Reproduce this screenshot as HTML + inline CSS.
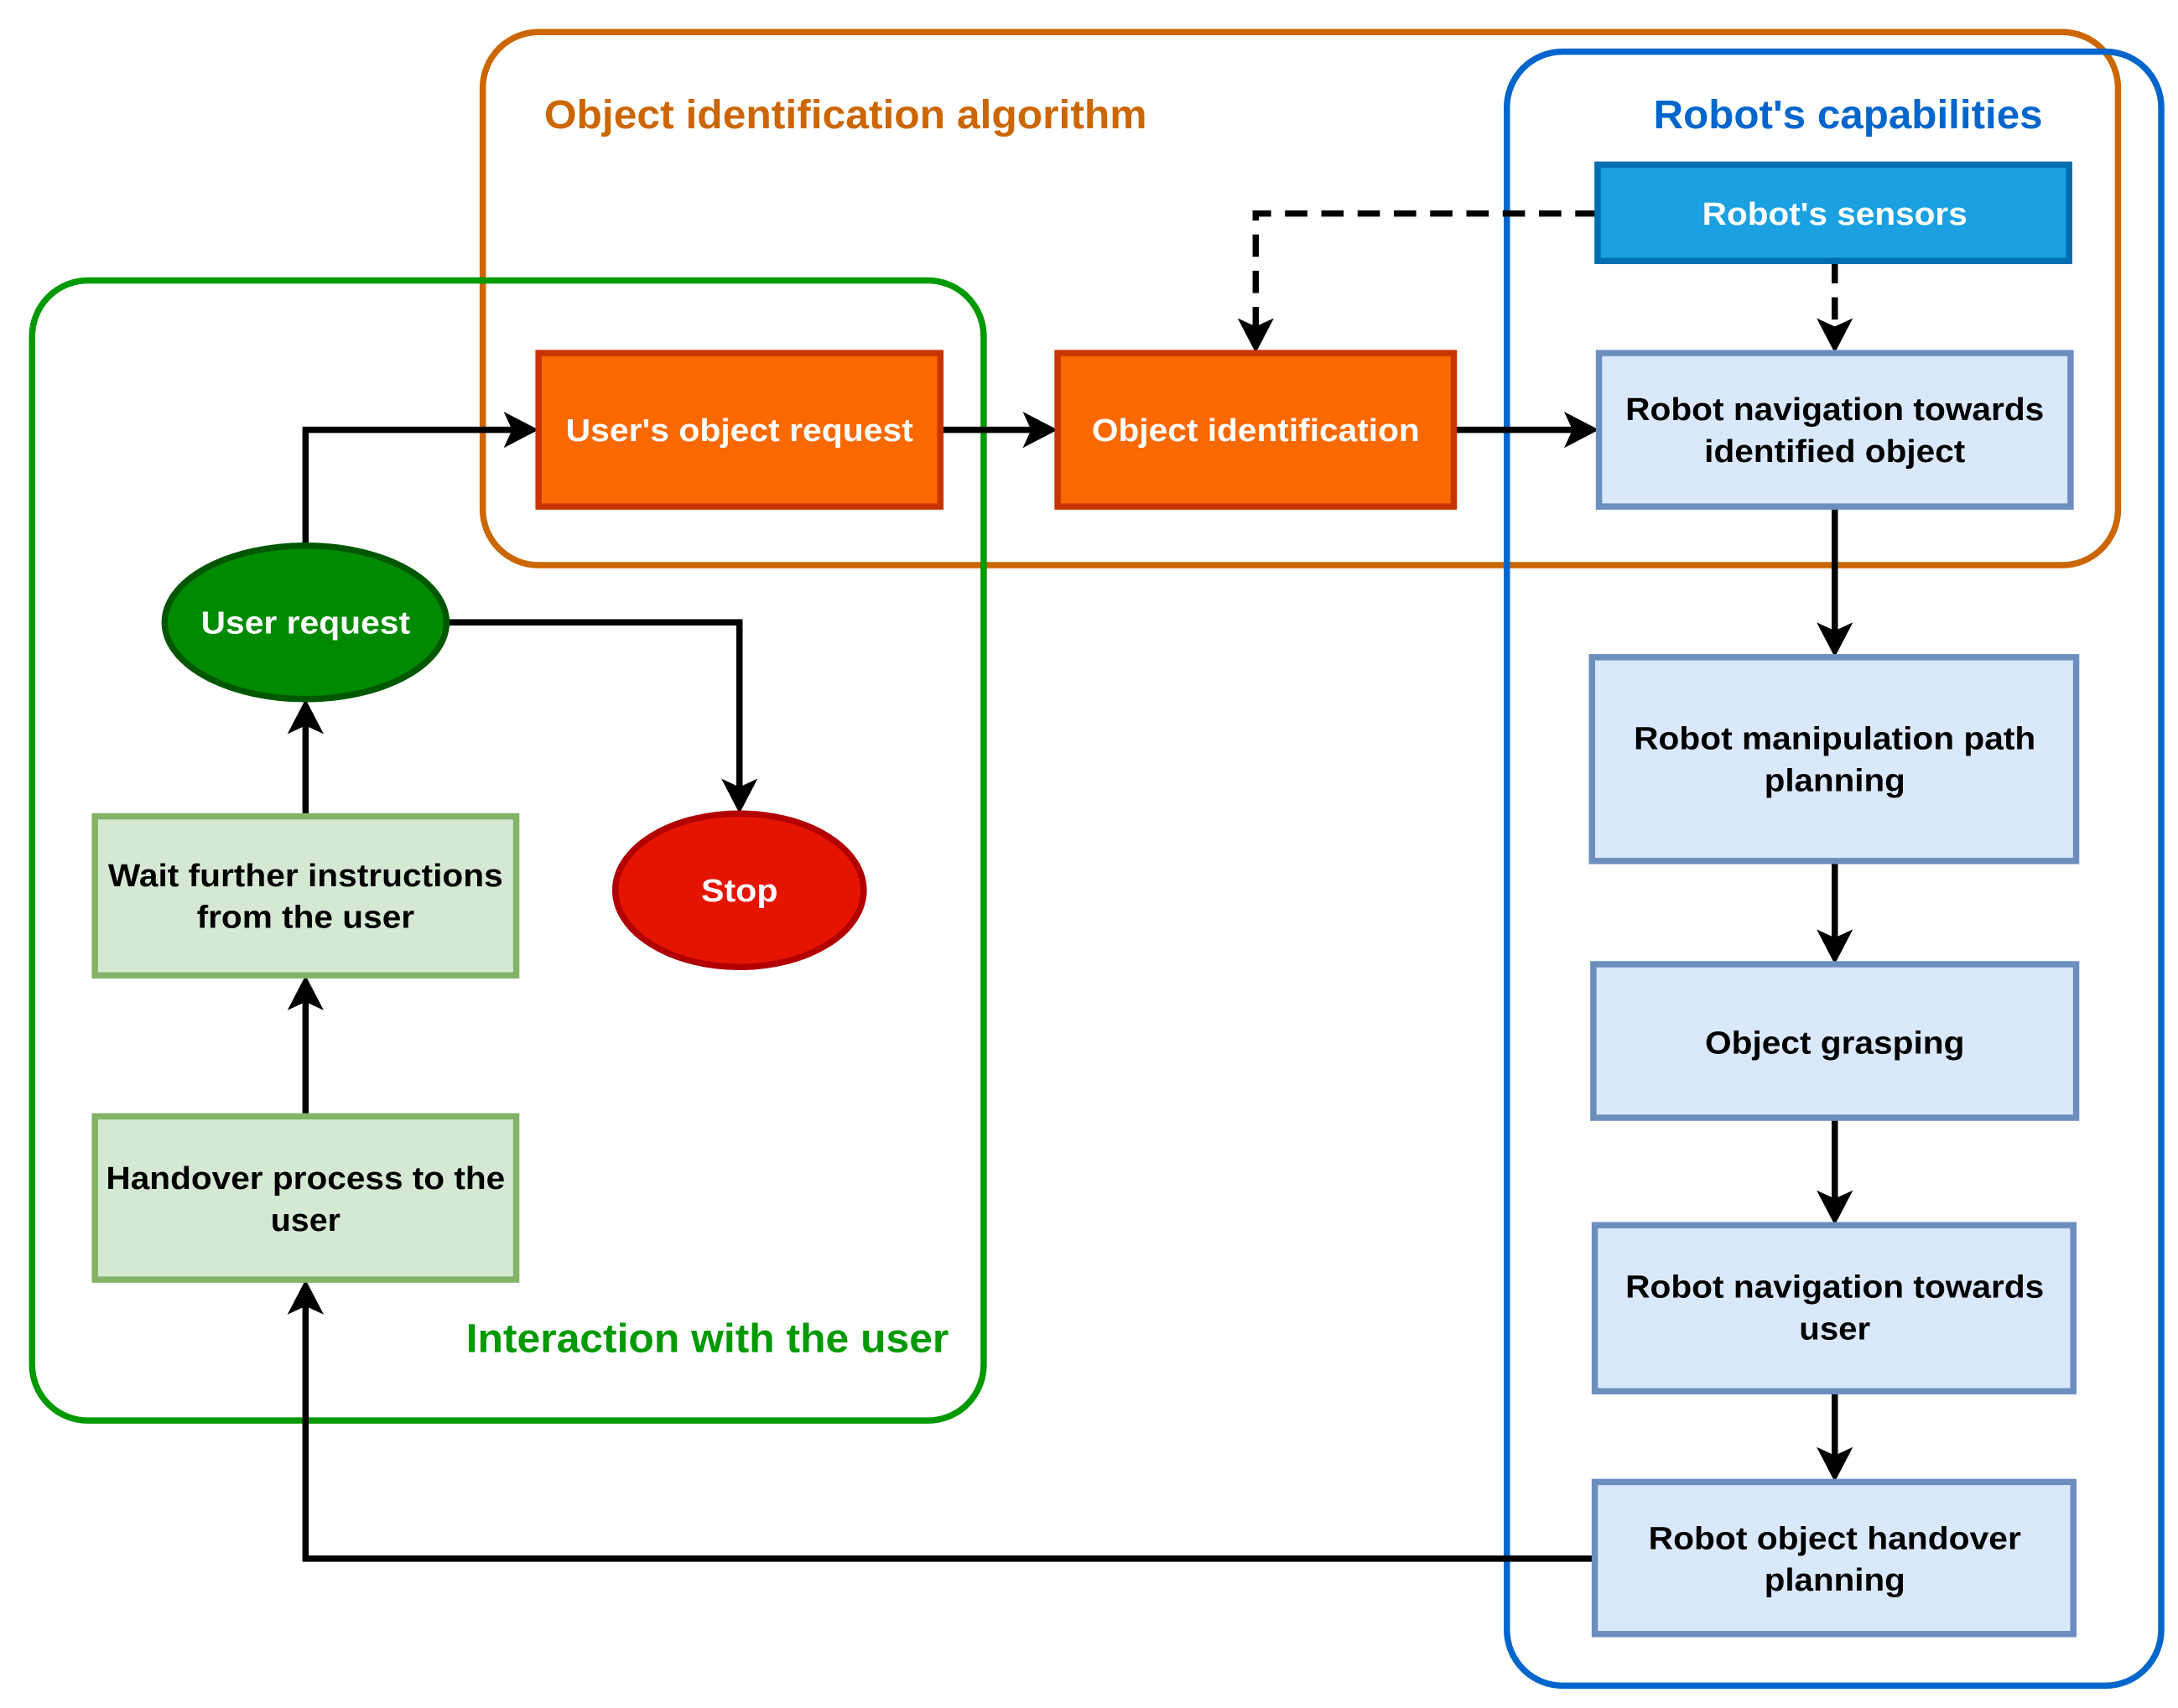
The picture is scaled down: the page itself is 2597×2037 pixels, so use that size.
<!DOCTYPE html>
<html><head><meta charset="utf-8"><style>html,body{margin:0;padding:0;background:#fff}svg{display:block}</style></head>
<body>
<svg width="2597" height="2037" viewBox="0 0 1561 1224" preserveAspectRatio="none" xmlns="http://www.w3.org/2000/svg" font-family="Liberation Sans, Arial, sans-serif" font-weight="bold">
<!-- containers -->
<rect x="346" y="23" width="1172" height="382" rx="40" fill="none" stroke="#CC6600" stroke-width="4.5"/>
<rect x="1080" y="37" width="469" height="1171" rx="40" fill="none" stroke="#0066CC" stroke-width="4.5"/>
<rect x="23" y="201" width="682" height="817" rx="40" fill="none" stroke="#009900" stroke-width="4.5"/>
<text x="390" y="92" font-size="29" fill="#CC6600" textLength="432" lengthAdjust="spacingAndGlyphs">Object identification algorithm</text>
<text x="1185" y="92" font-size="29" fill="#0066CC" textLength="279" lengthAdjust="spacingAndGlyphs">Robot's capabilities</text>
<text x="334" y="969" font-size="29" fill="#009900" textLength="346" lengthAdjust="spacingAndGlyphs">Interaction with the user</text>

<!-- connectors -->
<g stroke="#000" stroke-width="4.5" fill="none">
<polyline points="219,391 219,308 376,308"/>
<line x1="674" y1="308" x2="748" y2="308"/>
<line x1="1042" y1="308" x2="1136" y2="308"/>
<polyline points="1145,153 900,153 900,243" stroke-dasharray="16,10"/>
<line x1="1315" y1="187" x2="1315" y2="243" stroke-dasharray="16,10"/>
<line x1="1315" y1="363" x2="1315" y2="461"/>
<line x1="1315" y1="617" x2="1315" y2="681"/>
<line x1="1315" y1="801" x2="1315" y2="868"/>
<line x1="1315" y1="997" x2="1315" y2="1052"/>
<polyline points="1143,1117 219,1117 219,927"/>
<line x1="219" y1="800" x2="219" y2="709"/>
<line x1="219" y1="585" x2="219" y2="511"/>
<polyline points="320,446 530,446 530,573"/>
</g>
<g fill="#000">
<path d="M386,308 l-25,-13 l6,13 l-6,13z"/>
<path d="M758,308 l-25,-13 l6,13 l-6,13z"/>
<path d="M1146,308 l-25,-13 l6,13 l-6,13z"/>
<path d="M900,253 l-13,-25 l13,6 l13,-6z"/>
<path d="M1315,253 l-13,-25 l13,6 l13,-6z"/>
<path d="M1315,471 l-13,-25 l13,6 l13,-6z"/>
<path d="M1315,691 l-13,-25 l13,6 l13,-6z"/>
<path d="M1315,878 l-13,-25 l13,6 l13,-6z"/>
<path d="M1315,1062 l-13,-25 l13,6 l13,-6z"/>
<path d="M530,583 l-13,-25 l13,6 l13,-6z"/>
<path d="M219,917 l-13,25 l13,-6 l13,6z"/>
<path d="M219,699 l-13,25 l13,-6 l13,6z"/>
<path d="M219,501 l-13,25 l13,-6 l13,6z"/>
</g>

<!-- nodes -->
<rect x="1145" y="118" width="338" height="69" fill="#1BA1E2" stroke="#006EAF" stroke-width="4.5"/>
<text x="1315" y="161" font-size="23" fill="#fff" text-anchor="middle" textLength="190" lengthAdjust="spacingAndGlyphs">Robot's sensors</text>

<rect x="386" y="253" width="288" height="110" fill="#FA6800" stroke="#C73500" stroke-width="4.5"/>
<text x="530" y="316" font-size="23" fill="#fff" text-anchor="middle" textLength="249" lengthAdjust="spacingAndGlyphs">User's object request</text>
<rect x="758" y="253" width="284" height="110" fill="#FA6800" stroke="#C73500" stroke-width="4.5"/>
<text x="900" y="316" font-size="23" fill="#fff" text-anchor="middle" textLength="235" lengthAdjust="spacingAndGlyphs">Object identification</text>

<g fill="#DAE8FC" stroke="#6C8EBF" stroke-width="4.5">
<rect x="1146" y="253" width="338" height="110"/>
<rect x="1141" y="471" width="347" height="146"/>
<rect x="1142" y="691" width="346" height="110"/>
<rect x="1143" y="878" width="343" height="119"/>
<rect x="1143" y="1062" width="343" height="109"/>
</g>
<g font-size="23" fill="#000" text-anchor="middle">
<text x="1315" y="301" textLength="300" lengthAdjust="spacingAndGlyphs">Robot navigation towards</text>
<text x="1315" y="331" textLength="187" lengthAdjust="spacingAndGlyphs">identified object</text>
<text x="1315" y="537" textLength="288" lengthAdjust="spacingAndGlyphs">Robot manipulation path</text>
<text x="1315" y="567" textLength="101" lengthAdjust="spacingAndGlyphs">planning</text>
<text x="1315" y="755" textLength="186" lengthAdjust="spacingAndGlyphs">Object grasping</text>
<text x="1315" y="930" textLength="300" lengthAdjust="spacingAndGlyphs">Robot navigation towards</text>
<text x="1315" y="960" textLength="51" lengthAdjust="spacingAndGlyphs">user</text>
<text x="1315" y="1110" textLength="267" lengthAdjust="spacingAndGlyphs">Robot object handover</text>
<text x="1315" y="1140" textLength="101" lengthAdjust="spacingAndGlyphs">planning</text>
</g>

<ellipse cx="219" cy="446" rx="101" ry="55" fill="#008A00" stroke="#005700" stroke-width="4.5"/>
<text x="219" y="454" font-size="23" fill="#fff" text-anchor="middle" textLength="150" lengthAdjust="spacingAndGlyphs">User request</text>
<ellipse cx="530" cy="638" rx="89" ry="55" fill="#E51400" stroke="#B20000" stroke-width="4.5"/>
<text x="530" y="646" font-size="23" fill="#fff" text-anchor="middle" textLength="55" lengthAdjust="spacingAndGlyphs">Stop</text>

<rect x="68" y="585" width="302" height="114" fill="#D5E8D4" stroke="#82B366" stroke-width="4.5"/>
<rect x="68" y="800" width="302" height="117" fill="#D5E8D4" stroke="#82B366" stroke-width="4.5"/>
<g font-size="23" fill="#000" text-anchor="middle">
<text x="219" y="635" textLength="283" lengthAdjust="spacingAndGlyphs">Wait further instructions</text>
<text x="219" y="665" textLength="156" lengthAdjust="spacingAndGlyphs">from the user</text>
<text x="219" y="852" textLength="286" lengthAdjust="spacingAndGlyphs">Handover process to the</text>
<text x="219" y="882" textLength="50" lengthAdjust="spacingAndGlyphs">user</text>
</g>
</svg>
</body></html>
